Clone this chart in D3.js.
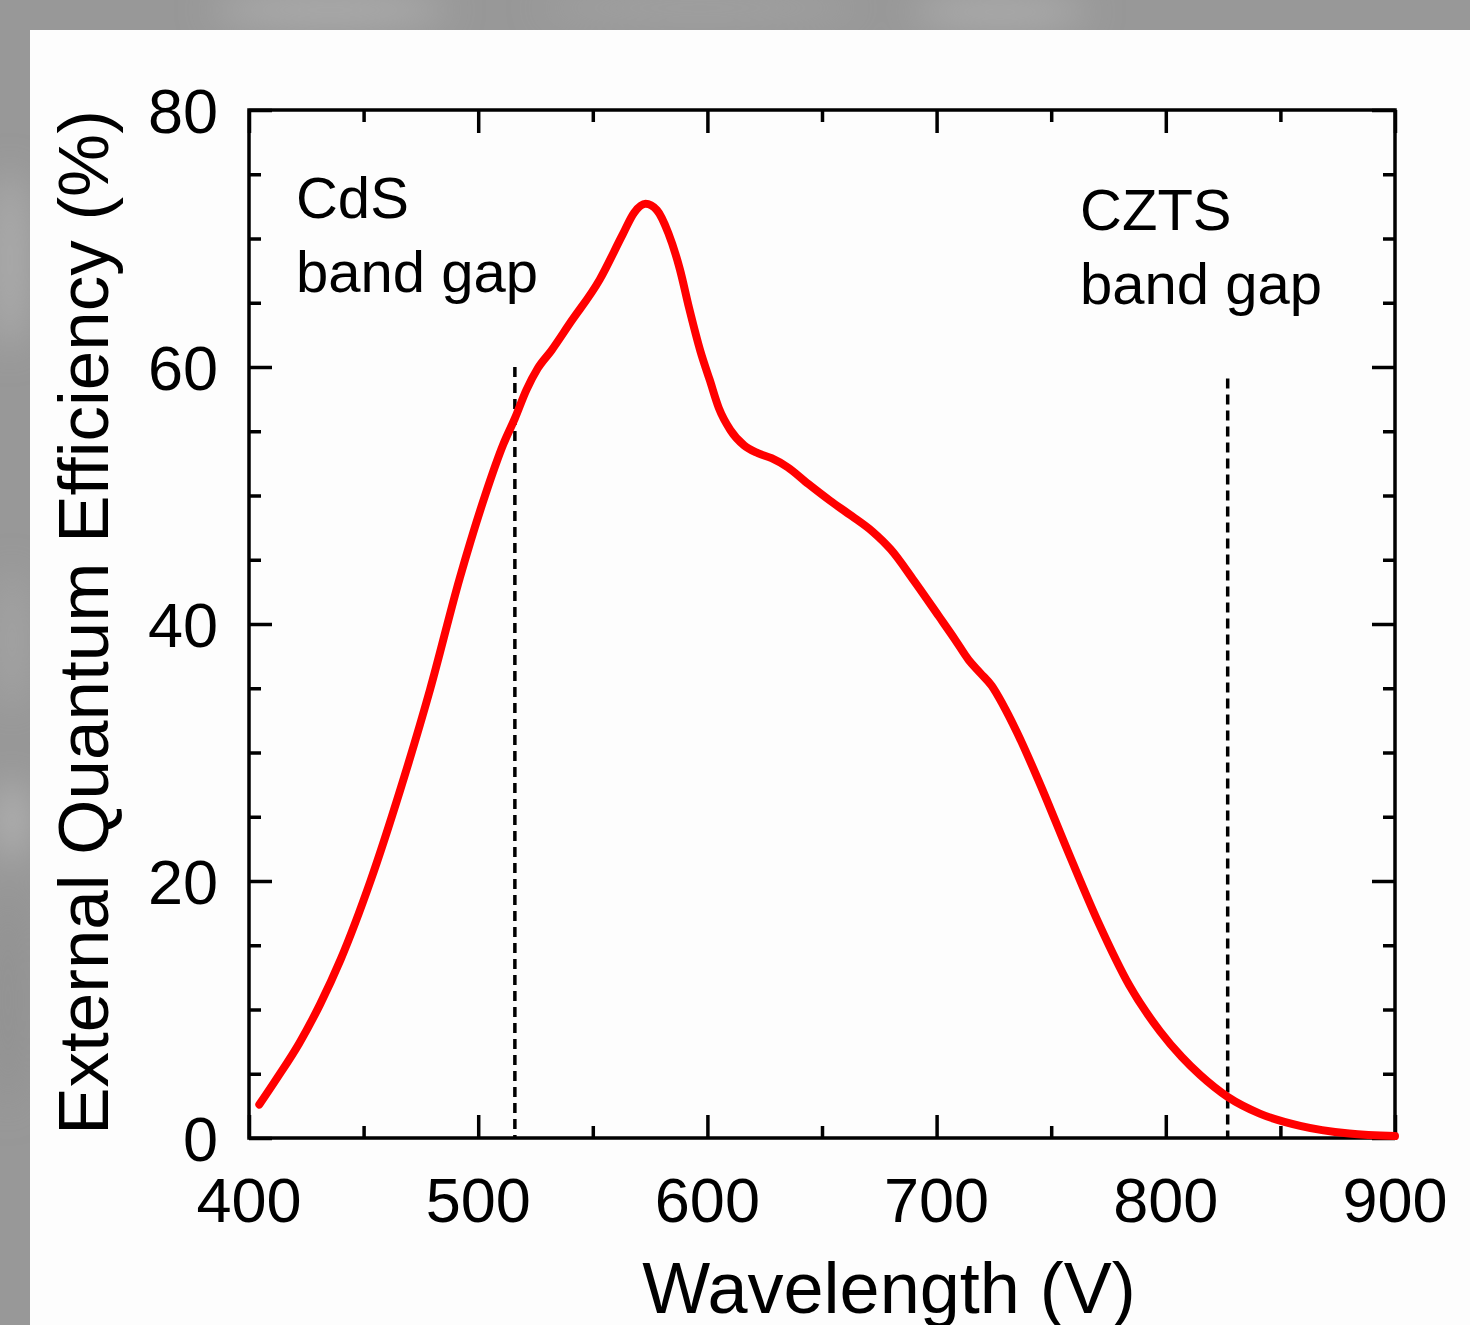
<!DOCTYPE html>
<html>
<head>
<meta charset="utf-8">
<script src="https://cdn.jsdelivr.net/npm/d3@7"></script>
<style>
  html, body { margin: 0; padding: 0; background: #999; }
  svg { display: block; }
  text { font-family: "Liberation Sans", Arial, sans-serif; fill: #000; }
</style>
</head>
<body>
<svg id="chart" width="1470" height="1325"></svg>
<script>
// ---- data ----
const wavelength = [404.5, 412, 422, 431, 440, 453, 466, 479, 492, 503, 511, 516, 521, 526, 532, 540, 553, 563, 568, 573, 578, 583, 588, 592, 597, 601, 605, 610, 616, 622, 628, 635, 644, 653.5, 663, 672, 680, 690, 701, 708, 714, 719, 724, 729, 735, 745, 758, 771, 784, 797.5, 807, 815, 827, 841, 858.6, 880, 900];
const eqe = [2.6, 4.6, 7.4, 10.4, 13.9, 20, 27.1, 34.9, 43.6, 50.0, 54.0, 56.0, 58.2, 59.9, 61.3, 63.4, 66.8, 70.3, 72.0, 72.7, 72.2, 70.4, 67.6, 64.6, 61.2, 59.0, 56.8, 55.1, 53.9, 53.3, 52.9, 52.2, 50.9, 49.6, 48.4, 47.2, 45.8, 43.4, 40.6, 38.8, 37.2, 36.2, 35.2, 33.7, 31.6, 27.6, 22.0, 16.6, 11.9, 8.3, 6.3, 4.9, 3.2, 1.9, 0.95, 0.35, 0.15];
const bandGapLines = [
  { name: "CdS", x: 516, top: 60 },
  { name: "CZTS", x: 827, top: 59.1 }
];
const bandGapLabels = [
  { lines: ["CdS", "band gap"], x: 420.5, y: 71.6 },
  { lines: ["CZTS", "band gap"], x: 762.6, y: 70.7 }
];
const xTicksMajor = [400, 500, 600, 700, 800, 900];
const xTicksMinor = [450, 550, 650, 750, 850];
const yTicksMajor = [0, 20, 40, 60, 80];
const yTicksMinor = [5, 10, 15, 25, 30, 35, 45, 50, 55, 65, 70, 75];
const xTitle = "Wavelength (V)";
const yTitle = "External Quantum Efficiency (%)";

// ---- layout ----
const svg = d3.select("#chart");
const W = 1470, H = 1325;
const m = { left: 249, right: 1395, top: 110, bottom: 1138 };

// background
const defs = svg.append("defs");
const blur = defs.append("filter").attr("id", "blur").attr("x", "-50%").attr("y", "-50%").attr("width", "200%").attr("height", "200%");
blur.append("feGaussianBlur").attr("stdDeviation", 18);
svg.append("rect").attr("width", W).attr("height", H).attr("fill", "#989898");
const blobs = svg.append("g").attr("filter", "url(#blur)");
[[330, 10, 120, 14, "#b0b0b0"], [1000, 12, 90, 12, "#b4b4b4"], [700, 8, 160, 10, "#a6a6a6"], [10, 260, 14, 90, "#b2b2b2"], [12, 640, 12, 70, "#a8a8a8"], [12, 820, 12, 40, "#bcbcbc"], [8, 1000, 12, 110, "#8e8e8e"]]
  .forEach(b => blobs.append("ellipse").attr("cx", b[0]).attr("cy", b[1]).attr("rx", b[2]).attr("ry", b[3]).attr("fill", b[4]));
svg.append("rect").attr("x", 30).attr("y", 30).attr("width", W - 30).attr("height", H - 30).attr("fill", "#fdfdfd");

const x = d3.scaleLinear().domain([400, 900]).range([m.left, m.right]);
const y = d3.scaleLinear().domain([0, 80]).range([m.bottom, m.top]);

// ticks (inward) on all four sides
function axisStyle(g) {
  g.select(".domain").remove();
  g.selectAll(".tick line").attr("stroke", "#000").attr("stroke-width", 3.5);
}
const majorLen = 23, minorLen = 12;
function addAxis(axisFn, scale, pos, vals, len, horizontal) {
  svg.append("g").attr("transform", horizontal ? `translate(0,${pos})` : `translate(${pos},0)`)
    .call(axisFn(scale).tickValues(vals).tickSize(-len).tickFormat(""))
    .call(axisStyle);
}
addAxis(d3.axisBottom, x, m.bottom, xTicksMajor, majorLen, true);
addAxis(d3.axisBottom, x, m.bottom, xTicksMinor, minorLen, true);
addAxis(d3.axisTop, x, m.top, xTicksMajor, majorLen, true);
addAxis(d3.axisTop, x, m.top, xTicksMinor, minorLen, true);
addAxis(d3.axisLeft, y, m.left, yTicksMajor, majorLen, false);
addAxis(d3.axisLeft, y, m.left, yTicksMinor, minorLen, false);
addAxis(d3.axisRight, y, m.right, yTicksMajor, majorLen, false);
addAxis(d3.axisRight, y, m.right, yTicksMinor, minorLen, false);

// tick labels
svg.append("g").selectAll("text").data(xTicksMajor).join("text")
  .attr("x", d => x(d)).attr("y", 1222)
  .attr("text-anchor", "middle").attr("font-size", 63).text(d => d);
svg.append("g").selectAll("text").data(yTicksMajor).join("text")
  .attr("x", 218).attr("y", d => y(d)).attr("dy", "0.36em")
  .attr("text-anchor", "end").attr("font-size", 63).text(d => d);

// frame
svg.append("rect").attr("x", m.left).attr("y", m.top)
  .attr("width", m.right - m.left).attr("height", m.bottom - m.top)
  .attr("fill", "none").attr("stroke", "#000").attr("stroke-width", 3.5);

// band gap dashed lines
svg.append("g").selectAll("line").data(bandGapLines).join("line")
  .attr("x1", d => x(d.x)).attr("x2", d => x(d.x))
  .attr("y1", d => y(d.top)).attr("y2", y(0))
  .attr("stroke", "#000").attr("stroke-width", 3.5).attr("stroke-dasharray", "10,6");

// EQE curve
const pts = wavelength.map((w, i) => [w, eqe[i]]);
svg.append("path").datum(pts)
  .attr("fill", "none").attr("stroke", "#ff0000").attr("stroke-width", 8)
  .attr("stroke-linecap", "round").attr("stroke-linejoin", "round")
  .attr("d", d3.line().x(d => x(d[0])).y(d => y(d[1])).curve(d3.curveMonotoneX));

// annotations
bandGapLabels.forEach(lbl => {
  const t = svg.append("text").attr("font-size", 58)
    .attr("x", x(lbl.x)).attr("y", y(lbl.y));
  lbl.lines.forEach((ln, i) => {
    t.append("tspan").attr("x", x(lbl.x)).attr("dy", i === 0 ? 0 : 74).text(ln);
  });
});

// axis titles
svg.append("text").attr("x", 889).attr("y", 1313)
  .attr("text-anchor", "middle").attr("font-size", 72).text(xTitle);
svg.append("text").attr("transform", `translate(108,${(m.top + 1135) / 2}) rotate(-90)`)
  .attr("text-anchor", "middle").attr("font-size", 71).text(yTitle);
</script>
</body>
</html>
